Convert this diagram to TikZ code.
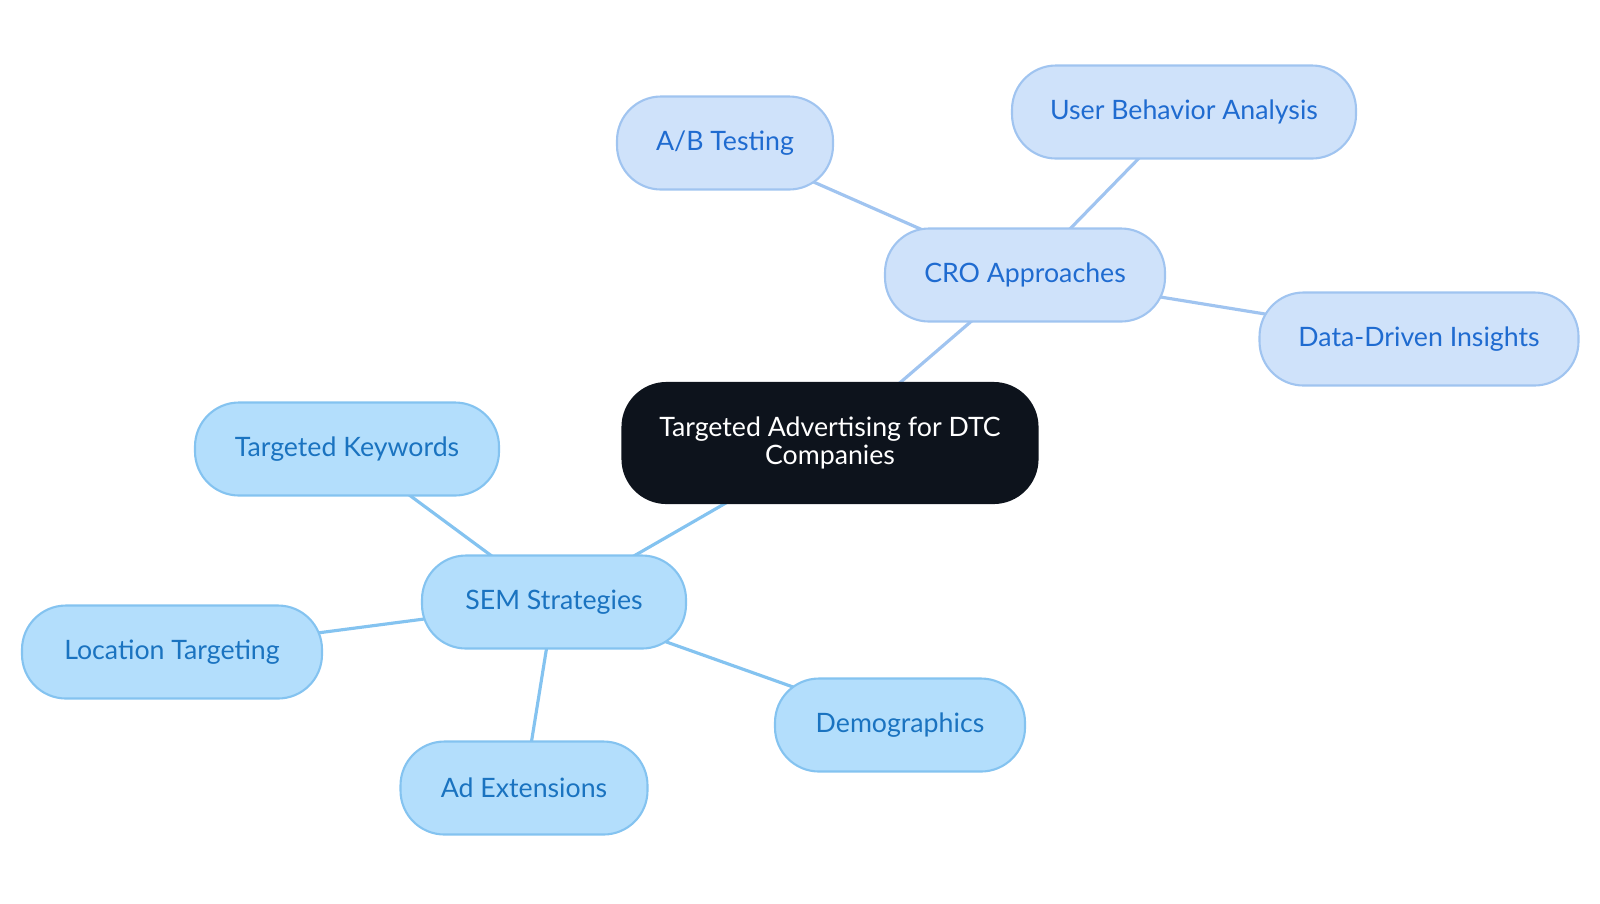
\documentclass[tikz,border=0pt]{standalone}
\usepackage{fontspec}
\setmainfont{Lato}
\usetikzlibrary{backgrounds}
\definecolor{semfill}{HTML}{B3DEFC}
\definecolor{semline}{HTML}{84C3F0}
\definecolor{semtext}{HTML}{1A73C0}
\definecolor{crofill}{HTML}{CFE2FA}
\definecolor{croline}{HTML}{A0C4F0}
\definecolor{crotext}{HTML}{1F6BD0}
\definecolor{rootfill}{HTML}{0D131C}
\begin{document}
\begin{tikzpicture}[font=\fontsize{7.6}{9}\selectfont]
\tikzstyle{every node}=[rounded corners=0.44cm,minimum height=0.93cm,inner xsep=0.3cm,line width=0.6pt]
\tikzstyle{sem}=[draw=semline,fill=semfill,text=semtext]
\tikzstyle{cro}=[draw=croline,fill=crofill,text=crotext]
\tikzstyle{semedge}=[draw=semline,line width=0.9pt]
\tikzstyle{croedge}=[draw=croline,line width=0.9pt]
\useasboundingbox (0,0) rectangle (16,-9.03);
% root
\node[fill=rootfill,draw=rootfill,text=white,minimum width=4.15cm,minimum height=1.2cm,align=center,font=\fontsize{7.6}{7.9}\selectfont](root) at (8.30,-4.43) {Targeted Advertising for DTC\\Companies};
% CRO branch
\node[cro,minimum width=2.80cm](cro) at (10.25,-2.75) {CRO Approaches};
\node[cro,minimum width=2.16cm](ab) at (7.25,-1.43) {A/B Testing};
\node[cro,minimum width=3.44cm](uba) at (11.84,-1.12) {User Behavior Analysis};
\node[cro,minimum width=3.19cm](ddi) at (14.19,-3.39) {Data-Driven Insights};
% SEM branch
\node[sem,minimum width=2.64cm](sem) at (5.54,-6.02) {SEM Strategies};
\node[sem,minimum width=3.04cm](kw) at (3.47,-4.49) {Targeted Keywords};
\node[sem,minimum width=3.00cm](loc) at (1.72,-6.52) {Location Targeting};
\node[sem,minimum width=2.47cm](ext) at (5.24,-7.88) {Ad Extensions};
\node[sem,minimum width=2.50cm](demo) at (9.00,-7.25) {Demographics};
\begin{scope}[on background layer]
\draw[croedge] (root.center) -- (cro.center);
\foreach \n in {ab,uba,ddi}
  \draw[croedge] (cro.center) -- (\n.center);
\draw[semedge] (root.center) -- (sem.center);
\foreach \n in {kw,loc,ext,demo}
  \draw[semedge] (sem.center) -- (\n.center);
\end{scope}
\end{tikzpicture}
\end{document}
